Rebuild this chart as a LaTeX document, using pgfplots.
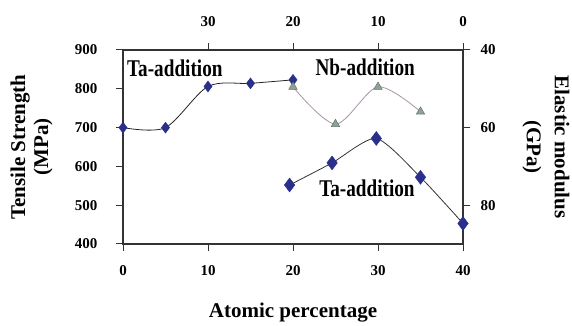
\documentclass[border=0pt]{standalone}
\usepackage{pgfplots}
\pgfplotsset{compat=1.18}
\usepackage{fontspec}
\setmainfont{Liberation Serif}
\definecolor{navy}{HTML}{2B2F8C}
\definecolor{trifill}{HTML}{8FA394}
\definecolor{tridraw}{HTML}{5F7366}
\definecolor{nbline}{HTML}{A696A6}
\definecolor{frame}{HTML}{333333}
\begin{document}
\begin{tikzpicture}
\pgfplotsset{
  common/.style={
    scale only axis, width=340pt, height=194pt,
    xmin=0, xmax=40,
    tick align=outside, major tick length=7pt,
    axis line style={line width=1.3pt, color=frame},
    tick style={line width=1pt, color=frame},
    ticklabel style={font=\bfseries\fontsize{15}{15}\selectfont},
    /pgf/number format/assume math mode=true,
    clip=false,
  }
}
\begin{axis}[common, name=ax,
  ymin=400, ymax=900,
  xtick={0,10,20,30,40}, ytick={400,500,600,700,800,900},
  xtick pos=bottom, ytick pos=left,
  xticklabel style={yshift=-11pt}, yticklabel style={xshift=-15pt},
]
\addplot[color=black!85, line width=0.8pt, smooth, mark=diamond*, mark size=5.5pt,
  mark options={fill=navy, draw=navy, line width=0.4pt}]
  coordinates {(0,700) (5,700) (10,806) (15,814) (20,823)};
\addplot[color=nbline, line width=0.8pt, smooth, mark=triangle*, mark size=4.8pt,
  mark options={fill=trifill, draw=tridraw, line width=0.5pt}]
  coordinates {(20,805) (25,709) (30,805) (35,741)};
\node[font=\bfseries\fontsize{24}{24}\selectfont, xscale=0.8] at (axis cs:6.1,853) {Ta-addition};
\node[font=\bfseries\fontsize{24}{24}\selectfont, xscale=0.8] at (axis cs:28.5,856) {Nb-addition};
\node[font=\bfseries\fontsize{24}{24}\selectfont, xscale=0.8] at (axis cs:28.7,543) {Ta-addition};
\end{axis}
\begin{axis}[common,
  axis x line*=top, axis y line*=right,
  ymin=40, ymax=90, y dir=reverse,
  xtick={10,20,30,40}, xticklabels={30,20,10,0},
  ytick={40,60,80},
  xticklabel style={yshift=13pt}, yticklabel style={xshift=7pt},
]
\addplot[color=black!80, line width=0.8pt, smooth, tension=0.4, mark=diamond*, mark size=7pt,
  mark options={fill=navy, draw=navy, line width=0.4pt}]
  coordinates {(19.6,74.8) (24.6,69.1) (29.8,62.8) (35.0,72.8) (40,84.7)};
\end{axis}
\node[rotate=90, align=center, font=\bfseries\fontsize{21}{23}\selectfont] at ([xshift=-91.5pt]ax.west) {Tensile Strength\\(MPa)};
\node[rotate=-90, align=center, font=\bfseries\fontsize{21}{28}\selectfont] at ([xshift=83pt]ax.east) {Elastic modulus\\(GPa)};
\node[font=\bfseries\fontsize{21}{21}\selectfont] at ([yshift=-69pt]ax.south) {Atomic percentage};
\pgfresetboundingbox
\path[use as bounding box] ([xshift=-123pt,yshift=-82pt]ax.south west) rectangle ([xshift=109pt,yshift=50pt]ax.north east);
\end{tikzpicture}
\end{document}
